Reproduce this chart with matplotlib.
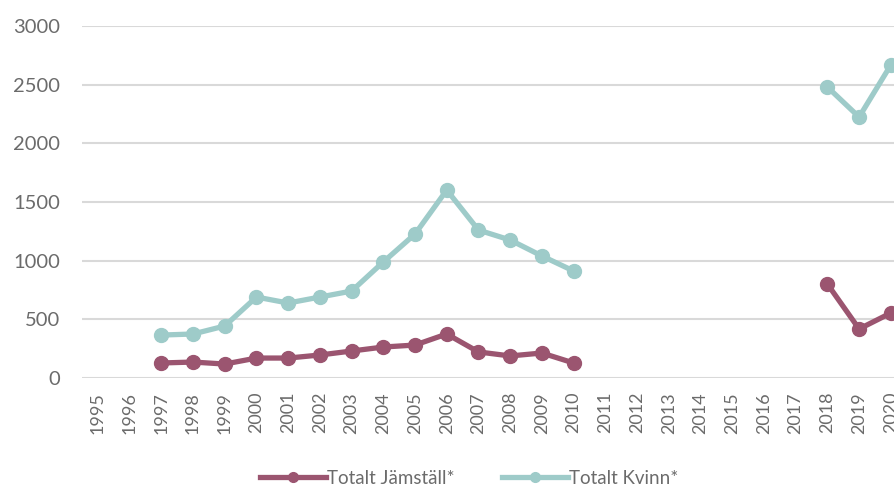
import numpy as np
import matplotlib
matplotlib.use("Agg")
import matplotlib.pyplot as plt

nan = np.nan
years = [str(y) for y in range(1995, 2021)]
# 1995-2020, gaps are missing years
jamstall = [nan, nan, 128, 136, 119, 170, 170, 196, 230, 264, 281, 375, 222, 188, 213, 128,
            nan, nan, nan, nan, nan, nan, nan, 801, 418, 554]
kvinn = [nan, nan, 366, 375, 443, 690, 639, 690, 741, 989, 1227, 1602, 1261, 1176, 1040, 912,
         nan, nan, nan, nan, nan, nan, nan, 2480, 2224, 2668]
yticks = [0, 500, 1000, 1500, 2000, 2500, 3000]

plt.rcParams['font.family'] = ['Lato', 'DejaVu Sans']
grey = '#6b6b6b'

fig = plt.figure(figsize=(8.94, 4.88), dpi=100)
ax = fig.add_axes([0.0917, 0.2254, 0.9083, 0.7213])

x = np.arange(len(years))
ax.plot(x, jamstall, color='#9b5570', lw=3.8, marker='o', ms=10, label='Totalt Jämställ*')
ax.plot(x, kvinn, color='#9ecbc9', lw=3.8, marker='o', ms=10, label='Totalt Kvinn*')

ax.set_ylim(0, 3000)
ax.set_xlim(-0.5, 25.1)
ax.set_yticks(yticks)
ax.set_xticks(x)
ax.set_xticklabels(years, rotation=90, fontsize=13, color=grey)
ax.tick_params(axis='y', labelsize=14.5, colors=grey, length=0, pad=16)
ax.tick_params(axis='x', length=0, pad=10)
ax.grid(axis='y', color='#d9d9d9', lw=1.5)
ax.set_axisbelow(True)
for s in ax.spines.values():
    s.set_visible(False)

leg = fig.legend(loc='center', bbox_to_anchor=(0.525, 0.02), ncol=2, frameon=False,
                 fontsize=13.5, handlelength=3.5, columnspacing=2.5, handletextpad=0.1,
                 markerscale=0.7)
for t in leg.get_texts():
    t.set_color(grey)

fig.savefig('out.png', dpi=100)
